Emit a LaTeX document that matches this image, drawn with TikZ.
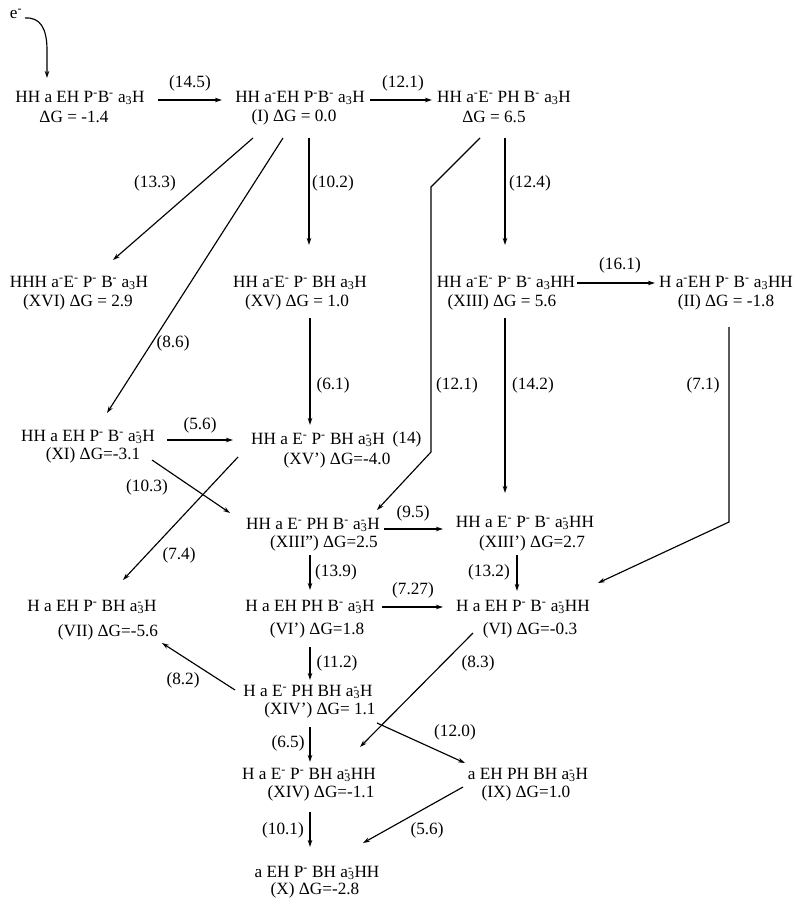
\documentclass[tikz,border=0pt]{standalone}
\usepackage{fontspec}
\setmainfont{Liberation Serif}
\usetikzlibrary{calc,arrows.meta}
\newcommand{\mi}{\textsuperscript{-}}
\newcommand{\ath}{a\textsubscript{3}}
\newcommand{\amt}{a\rlap{\textsuperscript{-}}\textsubscript{3}}
\newcommand{\pq}{\symbol{"27}}
\newcommand{\dq}{\symbol{"22}}
\begin{document}
\begin{tikzpicture}[x=1pt,y=-1pt,
  every node/.style={inner sep=0pt,font=\fontsize{17.2}{19}\selectfont},
  arr/.style={line width=1.15pt,-{Stealth[length=7pt,width=4.5pt]}}]
\useasboundingbox (0,0) rectangle (800,908);
% compounds
\node (e) at (16,14) {e\mi};
\node (c0) at (80,98) {HH a EH P\mi B\mi\ \ath H};
\node (g0) at (74,117) {ΔG = -1.4};
\node (c1) at (300,98) {HH a\mi EH P\mi B\mi\ \ath H};
\node (g1) at (294,117) {(I) ΔG = 0.0};
\node (c2) at (504,98) {HH a\mi E\mi\ PH B\mi\ \ath H};
\node (g2) at (494,117) {ΔG = 6.5};
\node (c3) at (79,283) {HHH a\mi E\mi\ P\mi\ B\mi\ \ath H};
\node (g3) at (78,302) {(XVI) ΔG = 2.9};
\node (c4) at (300,283) {HH a\mi E\mi\ P\mi\ BH \ath H};
\node (g4) at (297,302) {(XV) ΔG = 1.0};
\node (c5) at (506,283) {HH a\mi E\mi\ P\mi\ B\mi\ \ath HH};
\node (g5) at (502,302) {(XIII) ΔG = 5.6};
\node (c6) at (726,283) {H a\mi EH P\mi\ B\mi\ \ath HH};
\node (g6) at (726,302) {(II) ΔG = -1.8};
\node (c7) at (88,437) {HH a EH P\mi\ B\mi\ \amt H};
\node (g7) at (93,455) {(XI) ΔG=-3.1};
\node (c8) at (318,440) {HH a E\mi\ P\mi\ BH \amt H};
\node (g8) at (337,460) {(XV\pq) ΔG=-4.0};
\node (c9) at (313,525) {HH a E\mi\ PH B\mi\ \amt H};
\node (g9) at (324,543) {(XIII\dq) ΔG=2.5};
\node (c10) at (525,523) {HH a E\mi\ P\mi\ B\mi\ \amt HH};
\node (g10) at (532,543) {(XIII\pq) ΔG=2.7};
\node (c11) at (92,607) {H a EH P\mi\ BH \amt H};
\node (g11) at (108,632) {(VII) ΔG=-5.6};
\node (c12) at (310,607) {H a EH PH B\mi\ \amt H};
\node (g12) at (317,630) {(VI\pq) ΔG=1.8};
\node (c13) at (523,607) {H a EH P\mi\ B\mi\ \amt HH};
\node (g13) at (530,630) {(VI) ΔG=-0.3};
\node (c14) at (308,692) {H a E\mi\ PH BH \amt H};
\node (g14) at (320,710) {(XIV\pq) ΔG= 1.1};
\node (c15) at (309,775) {H a E\mi\ P\mi\ BH \amt HH};
\node (g15) at (321,793) {(XIV) ΔG=-1.1};
\node (c16) at (528,775) {a EH PH BH \amt H};
\node (g16) at (526,793) {(IX) ΔG=1.0};
\node (c17) at (317,873) {a EH P\mi\ BH \amt HH};
\node (g17) at (315,890) {(X) ΔG=-2.8};
% labels
\node (l1) at (190,83) {(14.5)};
\node (l2) at (403,83) {(12.1)};
\node (l3) at (155,183) {(13.3)};
\node (l4) at (333,183) {(10.2)};
\node (l5) at (530,183) {(12.4)};
\node (l6) at (620,265) {(16.1)};
\node (l7) at (173,343) {(8.6)};
\node (l8) at (333,385) {(6.1)};
\node (l9) at (457,385) {(12.1)};
\node (l10) at (533,385) {(14.2)};
\node (l11) at (703,385) {(7.1)};
\node (l12) at (200,425) {(5.6)};
\node (l13) at (407,439) {(14)};
\node (l14) at (147,487) {(10.3)};
\node (l15) at (179,555) {(7.4)};
\node (l16) at (413,513) {(9.5)};
\node (l17) at (336,572) {(13.9)};
\node (l18) at (489,572) {(13.2)};
\node (l19) at (413,590) {(7.27)};
\node (l20) at (337,663) {(11.2)};
\node (l21) at (183,680) {(8.2)};
\node (l22) at (478,663) {(8.3)};
\node (l23) at (455,732) {(12.0)};
\node (l24) at (288,743) {(6.5)};
\node (l25) at (283,830) {(10.1)};
\node (l26) at (427,830) {(5.6)};
% connectors
\draw[arr] ($(e)+(9,4)$) .. controls ($(e)+(24,3)$) and ($(e)+(31,14)$) .. ($(e)+(31,36)$) -- ($(c0)+(-33,-20)$);
\draw[arr] ($(c0)+(78,2)$) -- ($(c1)+(-78,2)$);
\draw[arr] ($(c1)+(70,2)$) -- ($(c2)+(-72,2)$);
\draw[arr] ($(g1)+(-41,21)$) -- ($(c3)+(34,-23)$);
\draw[arr] ($(g1)+(-11,21)$) -- ($(c7)+(19,-24)$);
\draw[arr] ($(g1)+(15,21)$) -- ($(c4)+(9,-38)$);
\draw[arr] ($(g2)+(-14,21)$) -- ($(g2)+(-63,70)$) -- ($(c9)+(118,-73)$) -- ($(c9)+(64,-15)$);
\draw[arr] ($(g2)+(11,21)$) -- ($(c5)+(-1,-38)$);
\draw[arr] ($(c5)+(71,0)$) -- ($(c6)+(-71,0)$);
\draw[arr] ($(g4)+(13,16)$) -- ($(c8)+(-8,-15)$);
\draw[arr] ($(g5)+(3,16)$) -- ($(c10)+(-20,-30)$);
\draw[arr] ($(g6)+(3,25)$) -- ($(c13)+(206,-85)$) -- ($(c13)+(75,-24)$);
\draw[arr] ($(c7)+(79,3)$) -- ($(c8)+(-85,0)$);
\draw[arr] ($(g7)+(59,5)$) -- ($(c9)+(-83,-12)$);
\draw[arr] ($(g8)+(-99,-3)$) -- ($(c11)+(31,-27)$);
\draw[arr] ($(c9)+(71,4)$) -- ($(c10)+(-82,6)$);
\draw[arr] ($(g9)+(-14,12)$) -- ($(c12)+(0,-17)$);
\draw[arr] ($(g10)+(-15,12)$) -- ($(c13)+(-6,-16)$);
\draw[arr] ($(c12)+(72,0)$) -- ($(c13)+(-80,0)$);
\draw[arr] ($(g12)+(-7,17)$) -- ($(c14)+(2,-12)$);
\draw[arr] ($(c14)+(-73,-2)$) -- ($(g11)+(54,11)$);
\draw[arr] ($(g13)+(-57,3)$) -- ($(c15)+(51,-28)$);
\draw[arr] ($(g14)+(57,13)$) -- ($(c16)+(-63,-12)$);
\draw[arr] ($(g14)+(-10,17)$) -- ($(c15)+(1,-13)$);
\draw[arr] ($(g15)+(-11,19)$) -- ($(c17)+(-7,-26)$);
\draw[arr] ($(g16)+(-63,-6)$) -- ($(c17)+(46,-30)$);
\end{tikzpicture}
\end{document}
